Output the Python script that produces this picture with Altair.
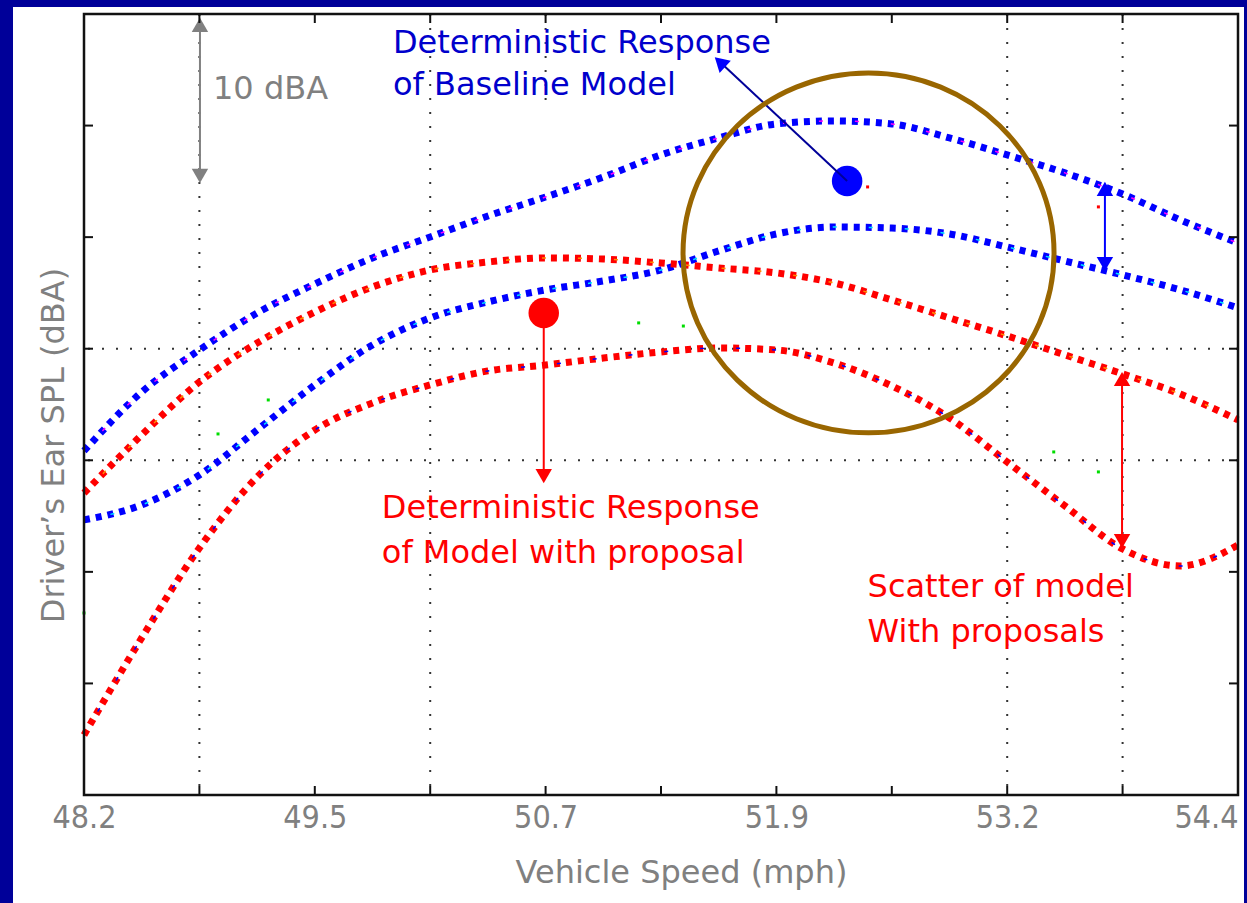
import altair as alt
import pandas as pd
import numpy as np

# ---------------- data ----------------
speed = [48.2, 48.51, 48.82, 49.13, 49.44, 49.75, 50.06, 50.37, 50.68, 50.99, 51.30,
         51.61, 51.92, 52.23, 52.54, 52.85, 53.16, 53.47, 53.78, 54.09, 54.4]
baseline_upper = [76.85, 80.42, 82.97, 85.21, 86.97, 88.55, 89.82, 91.09, 92.24, 93.45, 94.79,
                  95.82, 96.67, 96.85, 96.67, 95.82, 94.79, 93.70, 92.42, 90.85, 89.45]
baseline_lower = [72.67, 73.58, 75.39, 78.12, 80.85, 83.27, 84.91, 85.88, 86.61, 87.15, 87.82,
                  88.97, 90.00, 90.42, 90.36, 90.00, 89.21, 88.36, 87.52, 86.61, 85.52]
proposal_upper = [74.30, 77.82, 81.03, 83.39, 85.27, 86.79, 87.82, 88.30, 88.55, 88.48, 88.24,
                  87.94, 87.64, 87.03, 86.00, 84.91, 83.82, 82.67, 81.52, 80.30, 78.73]
proposal_lower = [59.64, 65.52, 70.97, 75.27, 78.12, 79.76, 80.85, 81.70, 82.06, 82.48, 82.85,
                  83.09, 82.97, 82.18, 80.79, 78.85, 76.18, 73.52, 70.91, 69.88, 71.15]

# deterministic responses (big dots)
det_speed = [52.30, 50.67]
det_spl = [93.21, 85.21]
det_color = ["#0000FF", "#FF0000"]

# stray scatter points
stray_speed = [48.92, 49.19, 51.18, 51.42, 53.41, 53.65, 48.2, 52.41, 53.65]
stray_spl = [77.88, 79.94, 84.61, 84.42, 76.79, 75.58, 67.03, 92.85, 91.64]
stray_color = ["#00DD00"] * 7 + ["#FF0000", "#FF0000"]

# axis ticks
x_tick_labels = ["48.2", "49.5", "50.7", "51.9", "53.2", "54.4"]
x_min, x_max = 48.2, 54.4
y_min, y_max = 56.0, 103.33

# annotations (data units)
ann_text = ["10 dBA", "Deterministic Response", "of Baseline Model",
            "Deterministic Response", "of Model with proposal",
            "Scatter of model", "With proposals"]
ann_x = [48.893, 49.86, 49.86, 49.80, 49.80, 52.41, 52.41]
ann_y = [98.18, 100.97, 98.42, 72.79, 70.06, 68.0, 65.27]
ann_color = ["#808080", "#0000CC", "#0000CC", "#FF0000", "#FF0000", "#FF0000", "#FF0000"]

# arrows: shafts
shaft_x = [48.823, 52.30, 50.67, 53.685, 53.777]
shaft_y = [102.67, 93.21, 85.21, 92.73, 81.21]
shaft_x2 = [48.823, 51.617, 50.67, 53.685, 53.777]
shaft_y2 = [93.52, 100.42, 75.33, 88.18, 71.39]
shaft_color = ["#808080", "#000099", "#FF0000", "#0000FF", "#FF0000"]
shaft_w = [2, 2, 2, 2, 2]
# arrows: heads
head_x = [48.823, 48.823, 51.617, 50.67, 53.685, 53.685, 53.777, 53.777]
head_y = [102.67, 93.52, 100.42, 75.33, 92.73, 88.18, 81.21, 71.39]
head_angle = [0, 180, 313, 180, 0, 180, 0, 180]
head_color = ["#808080", "#808080", "#0000FF", "#FF0000", "#0000FF", "#0000FF", "#FF0000", "#FF0000"]

# highlight ellipse
ell_x, ell_y = [52.415], [88.85]

# ---------------- tables ----------------
series_names = ["Baseline upper", "Baseline lower", "Proposal upper", "Proposal lower"]
series_vals = [baseline_upper, baseline_lower, proposal_upper, proposal_lower]
series_cols = ["#0000FF", "#0000FF", "#FF0000", "#FF0000"]
overlay_cols = ["#FF00FF", "#00E5FF", "#FF8C00", "#0000FF"]
rows = []
for n, vals, c, oc in zip(series_names, series_vals, series_cols, overlay_cols):
    for s, v in zip(speed, vals):
        rows.append({"series": n, "speed": s, "spl": v, "c": c, "oc": oc})
curves = pd.DataFrame(rows)

x_ticks = [round(x_min + (x_max - x_min) / 10 * k, 4) for k in range(11)]
x_label_vals = x_ticks[::2]
y_ticks = list(np.linspace(y_min, y_max, 8))

X = alt.X("speed:Q", scale=alt.Scale(domain=[x_min, x_max], nice=False, zero=False))
Y = alt.Y("spl:Q", scale=alt.Scale(domain=[y_min, y_max], nice=False, zero=False))

W, H = 1154, 781
one = pd.DataFrame({"a": [0]})

bg = alt.Chart(one).mark_rect(color="white").encode(
    x=alt.value(-71), x2=alt.value(1160), y=alt.value(-7), y2=alt.value(H + 108))

label_expr = "[" + ",".join(f"'{l}'" for l in x_tick_labels) + "][round((datum.value - 48.2) / 1.24)]"

grid_x = alt.Chart(pd.DataFrame({"speed": [x_ticks[1], x_ticks[3], x_ticks[8], x_ticks[9]]})).mark_rule(
    color="#333333", strokeWidth=2, strokeDash=[2, 12]).encode(
    x=alt.X("speed:Q", scale=alt.Scale(domain=[x_min, x_max], nice=False, zero=False),
            axis=alt.Axis(values=x_label_vals, labelExpr=label_expr, domain=False, ticks=False,
                          grid=False,
                          labelFont="Liberation Sans Narrow, Arial Narrow, DejaVu Sans Condensed, Roboto Condensed, Liberation Sans, sans-serif",
                          labelFontSize=32,
                          labelColor="#808080", labelPadding=7, labelFlush=False,
                          labelAlign={"condition": {"test": "datum.value > 54.3", "value": "right"},
                                      "value": "center"},
                          title="Vehicle Speed (mph)", titleFont="DejaVu Sans", titleFontSize=32,
                          titleFontWeight="normal", titleColor="#808080", titleX=597, titleY=87,
                          titleBaseline="alphabetic", titleAlign="center", zindex=2)))
grid_x_short = alt.Chart(pd.DataFrame({"speed": [x_ticks[4]], "spl": [y_max], "spl2": [97.5]})).mark_rule(
    color="#333333", strokeWidth=2, strokeDash=[2, 12]).encode(x=X, y=Y, y2="spl2:Q")
grid_y = alt.Chart(pd.DataFrame({"spl": [y_ticks[3], y_ticks[4]]})).mark_rule(
    color="#333333", strokeWidth=2, strokeDash=[2, 12]).encode(
    y=alt.Y("spl:Q", scale=alt.Scale(domain=[y_min, y_max], nice=False, zero=False),
            axis=alt.Axis(labels=False, ticks=False, domain=False, grid=False,
                          title="Driver’s Ear SPL (dBA)", titleFont="DejaVu Sans", titleFontSize=32,
                          titleFontWeight="normal", titleColor="#808080", titleAngle=270,
                          titleX=-21, titleY=431, titleBaseline="alphabetic", titleAlign="center",
                          zindex=2)))

lines = alt.Chart(curves).mark_line(strokeWidth=7, strokeDash=[6, 6], interpolate="monotone").encode(
    x=X, y=Y, detail="series:N", color=alt.Color("c:N", scale=None))
overlay = alt.Chart(curves).mark_line(strokeWidth=1.5, strokeDash=[4, 32], strokeDashOffset=9,
                                      interpolate="monotone").encode(
    x=X, y=Y, detail="series:N", color=alt.Color("oc:N", scale=None))

stray = alt.Chart(pd.DataFrame({"speed": stray_speed, "spl": stray_spl, "c": stray_color})).mark_point(
    filled=True, size=9, opacity=1, shape="square").encode(x=X, y=Y, color=alt.Color("c:N", scale=None))

dots = alt.Chart(pd.DataFrame({"speed": det_speed, "spl": det_spl, "c": det_color})).mark_point(
    filled=True, size=930, opacity=1, shape="circle").encode(x=X, y=Y, color=alt.Color("c:N", scale=None))

shafts = alt.Chart(pd.DataFrame({"speed": shaft_x, "spl": shaft_y, "speed2": shaft_x2, "spl2": shaft_y2,
                                 "c": shaft_color, "w": shaft_w})).mark_rule().encode(
    x=X, y=Y, x2="speed2:Q", y2="spl2:Q", color=alt.Color("c:N", scale=None),
    strokeWidth=alt.StrokeWidth("w:Q", scale=None))
heads = alt.Chart(pd.DataFrame({"speed": head_x, "spl": head_y, "ang": head_angle, "c": head_color})).mark_point(
    filled=True, opacity=1, shape="triangle-up", size=270, strokeWidth=0).encode(
    x=X, y=Y, angle=alt.Angle("ang:Q", scale=None), color=alt.Color("c:N", scale=None))

ellipse_path = ("M-1,0 C-1,-0.5357 -0.5523,-0.97 0,-0.97 C0.5523,-0.97 1,-0.5357 1,0 "
                "C1,0.5357 0.5523,0.97 0,0.97 C-0.5523,0.97 -1,0.5357 -1,0 Z")
ellipse = alt.Chart(pd.DataFrame({"speed": ell_x, "spl": ell_y})).mark_point(
    shape=ellipse_path, size=371 * 371, filled=False, color="#996600", strokeWidth=5, opacity=1).encode(x=X, y=Y)

texts = alt.Chart(pd.DataFrame({"speed": ann_x, "spl": ann_y, "t": ann_text, "c": ann_color})).mark_text(
    align="left", baseline="alphabetic", font="DejaVu Sans", fontSize=32).encode(
    x=X, y=Y, text="t:N", color=alt.Color("c:N", scale=None))

xt = pd.DataFrame({"speed": x_ticks})
yt = pd.DataFrame({"spl": y_ticks})
tick_b = alt.Chart(xt).mark_rule(color="#111111", strokeWidth=2).encode(x=X, y=alt.value(H), y2=alt.value(H - 9))
tick_t = alt.Chart(xt).mark_rule(color="#111111", strokeWidth=2).encode(x=X, y=alt.value(0), y2=alt.value(9))
tick_l = alt.Chart(yt).mark_rule(color="#111111", strokeWidth=2).encode(y=Y, x=alt.value(0), x2=alt.value(9))
tick_r = alt.Chart(yt).mark_rule(color="#111111", strokeWidth=2).encode(y=Y, x=alt.value(W), x2=alt.value(W - 9))
frame = alt.Chart(one).mark_rect(fill=None, stroke="#111111", strokeWidth=2.5, filled=False).encode(
    x=alt.value(0), x2=alt.value(W), y=alt.value(0), y2=alt.value(H))

chart = alt.layer(
    bg, grid_x, grid_x_short, grid_y, lines, overlay, stray, dots, shafts, heads, ellipse, texts,
    tick_b, tick_t, tick_l, tick_r, frame
).properties(
    width=W, height=H,
    padding={"left": 84, "top": 14, "right": 9, "bottom": 108},
    autosize=alt.AutoSizeParams(type="none"),
    background="#000099",
).configure_view(stroke=None)

chart.save("out.html", embed_options={"renderer": "svg", "actions": False})
